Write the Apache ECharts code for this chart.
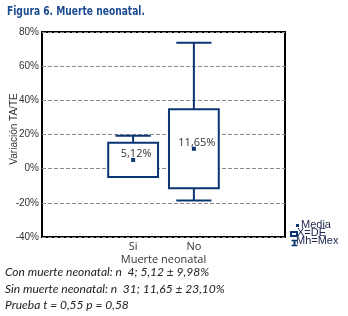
<!DOCTYPE html>
<html>
<head>
<meta charset="utf-8">
<script src="https://cdn.jsdelivr.net/npm/echarts@6/dist/echarts.min.js"></script>
<style>
  html, body { margin: 0; padding: 0; background: #fff; }
  #chart { width: 348px; height: 316px; }
</style>
</head>
<body>
<div id="chart"></div>
<script>
// datos
let categories = ['', 'Si', 'No', ''];
let groups = ['Si', 'No'];
let means = [5.12, 11.65];
let sds = [9.98, 23.10];
let mins = [-4.86, -18.7];
let maxs = [19.3, 73.7];
let meanLabels = ['5,12%', '11,65%'];
let yTicks = [-40, -20, 0, 20, 40, 60, 80];

let navy = '#0b3473';
let boxData = [];
groups.forEach((g, i) => {
    boxData.push([g, mins[i], means[i] - sds[i], means[i] + sds[i], maxs[i], means[i], meanLabels[i]]);
});

function renderBox(params, api) {
    let x = api.value(0);
    let pMin = api.coord([x, api.value(1)]);
    let pQ1 = api.coord([x, api.value(2)]);
    let pQ3 = api.coord([x, api.value(3)]);
    let pMax = api.coord([x, api.value(4)]);
    let pMean = api.coord([x, api.value(5)]);
    let slot = api.size([1, 0])[0];
    let bw = slot * 0.82;
    let cw = slot * 0.58;
    let cx = pQ1[0];
    let st = { stroke: navy, lineWidth: 2, fill: null };
    return {
        type: 'group',
        children: [
            { type: 'line', shape: { x1: cx, y1: pQ3[1], x2: cx, y2: pMax[1] }, style: st },
            { type: 'line', shape: { x1: cx, y1: pQ1[1], x2: cx, y2: pMin[1] }, style: st },
            { type: 'line', shape: { x1: cx - cw / 2, y1: pMax[1], x2: cx + cw / 2, y2: pMax[1] }, style: st },
            { type: 'line', shape: { x1: cx - cw / 2, y1: pMin[1], x2: cx + cw / 2, y2: pMin[1] }, style: st },
            { type: 'rect', shape: { x: cx - bw / 2, y: pQ3[1], width: bw, height: pQ1[1] - pQ3[1] }, style: { stroke: navy, lineWidth: 2, fill: '#fff' } },
            { type: 'rect', shape: { x: pMean[0] - 2, y: pMean[1] - 2, width: 4, height: 4 }, style: { fill: navy } },
            { type: 'text', x: pMean[0] + 3, y: pMean[1] - 6, style: { text: api.value(6), fill: '#333', font: '11px "Open Sans"', align: 'center', verticalAlign: 'middle' } }
        ]
    };
}

let myChart = echarts.init(document.getElementById('chart'));
let option = {
    animation: false,
    grid: {
        left: 42, top: 32, width: 243, height: 205,
        outerBoundsMode: 'none',
        containLabel: false,
        show: true, borderColor: '#000', borderWidth: 2
    },
    xAxis: {
        type: 'category',
        data: categories,
        axisTick: { show: false },
        axisLine: { show: false },
        axisLabel: { color: '#333', fontSize: 11, margin: 4, fontFamily: '"Open Sans"' },
        name: 'Muerte neonatal',
        nameLocation: 'middle',
        nameMoveOverlap: false,
        nameGap: 17,
        nameTextStyle: { color: '#333', fontSize: 11, fontFamily: '"Open Sans"' }
    },
    yAxis: {
        type: 'value',
        min: yTicks[0], max: yTicks[yTicks.length - 1], interval: 20,
        axisLine: { show: false },
        axisTick: { show: false },
        axisLabel: { formatter: '{value}%', color: '#333', fontSize: 10, margin: 3, fontFamily: '"Liberation Sans"' },
        splitLine: { lineStyle: { color: '#8a8a8a', type: [4, 2], width: 1 } },
        name: 'Variación TA/TE',
        nameLocation: 'middle',
        nameMoveOverlap: false,
        nameGap: 23,
        nameTextStyle: { color: '#333', fontSize: 10, fontFamily: '"Liberation Sans"', padding: [0, 0, 0, 11] }
    },
    series: [{
        type: 'custom',
        renderItem: renderBox,
        encode: { x: 0, y: [1, 2, 3, 4, 5] },
        data: boxData,
        z: 3
    }],
    graphic: [
        { type: 'text', x: 7, y: 5, scaleX: 0.78, style: { text: 'Figura 6. Muerte neonatal.', fill: '#1d4d92', font: 'bold 13px "DejaVu Sans Condensed"' } },
        { type: 'rect', left: 296, top: 224, shape: { width: 3, height: 3 }, style: { fill: navy } },
        { type: 'text', left: 301, top: 219, style: { text: 'Media', fill: '#1c2550', font: '11px "Liberation Sans"' } },
        { type: 'rect', left: 290, top: 231, shape: { width: 6, height: 4 }, style: { stroke: navy, lineWidth: 2, fill: '#fff' } },
        { type: 'text', left: 297, top: 227, style: { text: 'X=DE', fill: '#1c2550', font: '11px "Liberation Sans"' } },
        { type: 'group', left: 289, top: 238, children: [
            { type: 'line', shape: { x1: 0, y1: 0, x2: 6, y2: 0 }, style: { stroke: navy, lineWidth: 1.5 } },
            { type: 'line', shape: { x1: 0, y1: 5, x2: 6, y2: 5 }, style: { stroke: navy, lineWidth: 1.5 } },
            { type: 'line', shape: { x1: 3, y1: 0, x2: 3, y2: 5 }, style: { stroke: navy, lineWidth: 2 } }
        ] },
        { type: 'text', left: 296, top: 235, style: { text: 'Mh=Mex', fill: '#1c2550', font: '11px "Liberation Sans"' } },
        { type: 'text', left: 5, top: 266, style: { text: 'Con muerte neonatal: n  4; 5,12 ± 9,98%', fill: '#222', font: 'italic 12px Lato' } },
        { type: 'text', left: 5, top: 283, style: { text: 'Sin muerte neonatal: n  31; 11,65 ± 23,10%', fill: '#222', font: 'italic 12px Lato' } },
        { type: 'text', left: 5, top: 299, style: { text: 'Prueba t = 0,55 p = 0,58', fill: '#222', font: 'italic 12px Lato' } }
    ]
};
myChart.setOption(option);
</script>
</body>
</html>
